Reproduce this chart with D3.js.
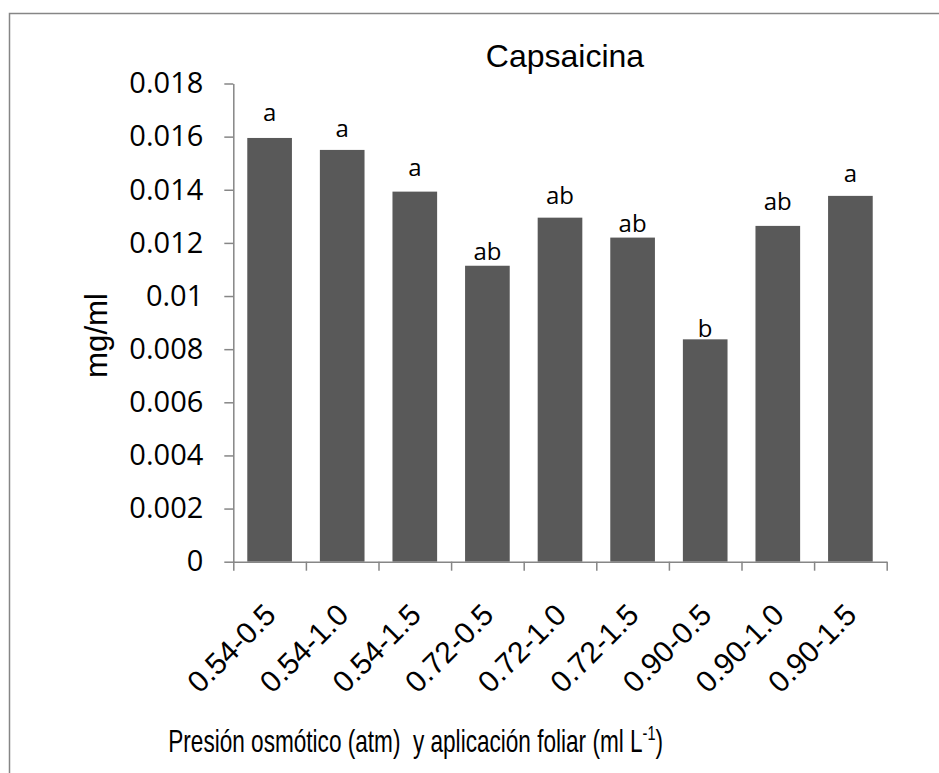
<!DOCTYPE html>
<html>
<head>
<meta charset="utf-8">
<script src="https://cdn.jsdelivr.net/npm/d3@7"></script>
<style>
  body { margin: 0; background: #ffffff; }
  svg { display: block; }
</style>
</head>
<body>
<script>
// Capsaicin content per treatment (osmotic pressure - foliar application)
const categories = ["0.54-0.5", "0.54-1.0", "0.54-1.5", "0.72-0.5", "0.72-1.0", "0.72-1.5", "0.90-0.5", "0.90-1.0", "0.90-1.5"];
const capsaicina = [0.01595, 0.0155, 0.01393, 0.01114, 0.01295, 0.0122, 0.00837, 0.01264, 0.01377];
const letters = ["a", "a", "a", "ab", "ab", "ab", "b", "ab", "a"];
const yTicks = [0, 0.002, 0.004, 0.006, 0.008, 0.01, 0.012, 0.014, 0.016, 0.018];
const yTickLabels = ["0", "0.002", "0.004", "0.006", "0.008", "0.01", "0.012", "0.014", "0.016", "0.018"];

// ---- layout ----
const W = 939, H = 773;
const plot = { left: 233.3, right: 886.7, top: 83.5, bottom: 561.7 };
// hand-placed heights of the significance letters above each bar
const letterLift = [17, 13, 16, 6, 14, 6, 2, 16, 14];
const axisColor = "#868686";
const barColor = "#595959";

const svg = d3.select("body").append("svg")
  .attr("width", W).attr("height", H);

svg.append("rect").attr("width", W).attr("height", H).attr("fill", "#fff");

// chart frame (top and left edges fall inside the canvas)
svg.append("path")
  .attr("d", `M9.5,${H + 2} V13.5 H${W + 2}`)
  .attr("fill", "none").attr("stroke", axisColor).attr("stroke-width", 1.5);

const x = d3.scaleBand()
  .domain(categories)
  .range([plot.left, plot.right])
  .paddingInner(0.385)
  .paddingOuter(0.1925);

const xEdge = d3.scaleLinear()
  .domain([0, categories.length])
  .range([plot.left, plot.right]);

const y = d3.scaleLinear()
  .domain([0, 0.018])
  .range([plot.bottom, plot.top]);

// bars
svg.append("g").selectAll("rect")
  .data(capsaicina)
  .join("rect")
  .attr("x", (d, i) => x(categories[i]))
  .attr("width", x.bandwidth())
  .attr("y", d => y(d))
  .attr("height", d => y(0) - y(d))
  .attr("fill", barColor);

// y axis
const yAxis = svg.append("g")
  .attr("transform", `translate(${plot.left},0)`)
  .call(d3.axisLeft(y)
    .tickValues(yTicks)
    .tickFormat((d, i) => yTickLabels[i])
    .tickSize(9)
    .tickSizeOuter(0)
    .tickPadding(21));
yAxis.select(".domain").attr("stroke", axisColor).attr("stroke-width", 1.5);
yAxis.selectAll(".tick line").attr("stroke", axisColor).attr("stroke-width", 1.5);
yAxis.selectAll(".tick text")
  .attr("fill", "#000")
  .style("font-family", "'Open Sans', 'Noto Sans', sans-serif")
  .style("font-size", "29px");

// x axis: ticks sit between categories
const xAxis = svg.append("g")
  .attr("transform", `translate(0,${plot.bottom})`)
  .call(d3.axisBottom(xEdge)
    .tickValues(d3.range(categories.length + 1))
    .tickFormat("")
    .tickSize(9)
    .tickSizeOuter(0));
xAxis.select(".domain").attr("stroke", axisColor).attr("stroke-width", 1.5);
xAxis.selectAll(".tick line").attr("stroke", axisColor).attr("stroke-width", 1.5);

// rotated category labels
svg.append("g").selectAll("text")
  .data(categories)
  .join("text")
  .attr("transform", d => `translate(${x(d) + x.bandwidth() / 2 + 8},${plot.bottom + 55}) rotate(-45)`)
  .attr("text-anchor", "end")
  .style("font-family", "'Liberation Sans', Arial, sans-serif")
  .style("font-size", "30px")
  .attr("fill", "#000")
  .text(d => d);

// significance letters
svg.append("g").selectAll("text")
  .data(letters)
  .join("text")
  .attr("x", (d, i) => x(categories[i]) + x.bandwidth() / 2)
  .attr("y", (d, i) => y(capsaicina[i]) - letterLift[i])
  .attr("text-anchor", "middle")
  .style("font-family", "'Open Sans', 'Noto Sans', sans-serif")
  .style("font-size", "24px")
  .attr("fill", "#000")
  .text(d => d);

// title
svg.append("text")
  .attr("x", 565).attr("y", 67.3)
  .attr("text-anchor", "middle")
  .style("font-family", "'Liberation Sans', Arial, sans-serif")
  .style("font-size", "32px")
  .attr("fill", "#000")
  .text("Capsaicina");

// y axis title
svg.append("text")
  .attr("transform", "translate(107,335.5) rotate(-90)")
  .attr("text-anchor", "middle")
  .attr("textLength", 85)
  .attr("lengthAdjust", "spacingAndGlyphs")
  .style("font-family", "'Liberation Sans', Arial, sans-serif")
  .style("font-size", "32px")
  .attr("fill", "#000")
  .text("mg/ml");

// x axis title with superscript unit
const xTitle = svg.append("text")
  .attr("x", 168.3).attr("y", 751.7)
  .style("font-family", "'Liberation Sans', Arial, sans-serif")
  .style("font-size", "31px")
  .style("white-space", "pre")
  .attr("fill", "#000");
xTitle.append("tspan").text("Presión osmótico (atm)  y aplicación foliar (ml L");
xTitle.append("tspan").attr("dy", -12).style("font-size", "20px").text("-1");
xTitle.append("tspan").attr("dy", 12).text(")");
const natural = xTitle.node().getComputedTextLength();
const targetW = 495;
xTitle.attr("transform", `translate(168.3,0) scale(${targetW / natural},1) translate(-168.3,0)`);
</script>
</body>
</html>
